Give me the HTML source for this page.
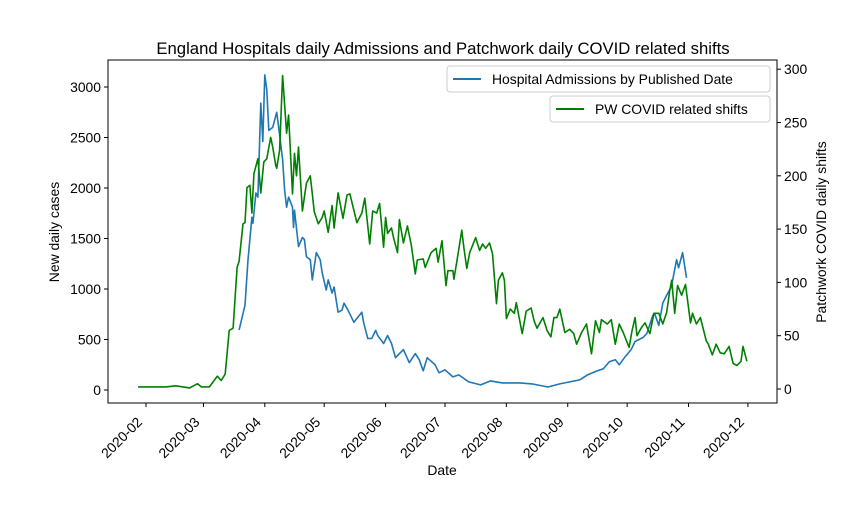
<!DOCTYPE html>
<html><head><meta charset="utf-8"><style>
body{margin:0;background:#fff}
svg text{font-family:"Liberation Sans","DejaVu Sans",sans-serif;fill:#000}
</style></head><body>
<svg id="chart" width="864" height="504" xmlns="http://www.w3.org/2000/svg">
<rect width="864" height="504" fill="#fff"/>
<g id="lines"></g>
<g id="axes"></g>
<text x="443" y="54" font-size="16.7" text-anchor="middle">England Hospitals daily Admissions and Patchwork daily COVID related shifts</text>
<text x="442" y="475" font-size="13.9" text-anchor="middle">Date</text>
<text transform="translate(59,232) rotate(-90)" font-size="13.9" text-anchor="middle">New daily cases</text>
<text transform="translate(826,232) rotate(-90)" font-size="13.9" text-anchor="middle">Patchwork COVID daily shifts</text>
<g>
<rect x="447" y="66" width="323" height="26" rx="3" fill="#fff" stroke="#ccc"/>
<line x1="453" y1="79" x2="481" y2="79" stroke="#1f77b4" stroke-width="2"/>
<text x="492" y="84" font-size="13.9">Hospital Admissions by Published Date</text>
</g>
<g>
<rect x="550" y="96" width="220" height="26" rx="3" fill="#fff" stroke="#ccc"/>
<line x1="556" y1="109" x2="584" y2="109" stroke="green" stroke-width="2"/>
<text x="595" y="114" font-size="13.9">PW COVID related shifts</text>
</g>
</svg>
<script>
// days since 2020-02-01
const admDays=[47,50,51.5,53.5,54,55.5,56.5,58,59,60,61,62,64,66,67,69,70,71,72,74,74.5,75,77,79,80,81,83,84,86,88,89,91,92,94,95,97,99,100,102,105,107,109,110,112,114,116,117,120,122,124,126,130,133,136,138,140,142,146,148,151,155,158,163,169,174,180,189,195,203,209,214,219,223,228,231,234,237,239,242,245,247,251,253,256,257,259,261,263,265,266,268,269,271,273];
const admValues=[594,840,1290,1710,1650,1950,1910,2840,2460,3120,2970,2570,2600,2750,2600,2280,1980,1810,1910,1810,1610,1780,1420,1510,1490,1320,1290,1090,1360,1290,1160,990,1090,960,1020,770,790,860,790,670,720,770,660,510,510,590,540,460,540,460,320,400,270,360,300,190,320,250,170,200,130,150,80,50,90,70,70,60,30,60,80,100,150,190,210,280,300,250,330,400,480,520,560,740,750,640,860,940,1010,1090,1290,1210,1360,1110];
const pwDays=[-4,10,15,22,26,28,32,36,38,40,42,44,46,47,49,50,51,52.5,53.5,54.5,56.5,58,59.5,61,63,64,65.5,66,67.5,69,71,72,74,75,76,77,79,81,83,85,87,89,90,92,94,95,97,99.5,101.5,103,106.5,109,110.5,113,114.5,116.5,118,120,121,122,124,125,127,128,130,132,134,136,137,140,141,144,146.5,147.5,149.5,151.5,152.5,155,155.5,157,159.5,160.5,162,163.5,166.5,168.5,170,171.5,173.5,175,177,178,180,181,182,184,186,187,190,192,194.5,196,197.5,200.5,202.5,204.5,206,207.5,209,211.5,214,216,217.5,220,222.5,225,227,229,230,233,235,237,239,241,244,245.5,247,248,250,252,254.5,256.5,259,261,263,264.5,265.5,267,268.5,270.5,272.5,275,276,278,280,283,284,286,288,290,292,294.5,296.5,298.5,300.5,301.5,303.5];
const pwValues=[2,2,3,1,5,2,2,12,8,14,55,57,114,120,155,156,189,191,165,202,216,184,213,216,236,227,210,207,224,294,240,257,183,221,200,227,167,193,200,166,155,161,167,147,172,151,184,160,182,183,156,165,179,136,167,165,174,133,161,146,151,142,128,159,137,153,135,108,121,122,114,128,132,119,139,97,111,111,103,120,149,133,113,128,142,130,136,132,137,127,80,102,109,102,66,75,71,81,52,73,76,64,57,67,55,49,67,67,75,53,56,52,42,53,61,33,64,53,65,61,65,42,61,53,39,55,67,50,57,62,52,71,71,61,72,92,102,71,97,88,98,62,71,61,67,45,42,32,42,34,33,40,24,22,26,40,26];
const leftTicks=[0,500,1000,1500,2000,2500,3000];
const rightTicks=[0,50,100,150,200,250,300];
const xTickDays=[0,29,60,90,121,151,182,213,243,274,304];
const xTickLabels=["2020-02","2020-03","2020-04","2020-05","2020-06","2020-07","2020-08","2020-09","2020-10","2020-11","2020-12"];

const L=108,R=777,T=60,B=403;
const xS=d=>146+d*1.98;
const yL=v=>390-v*0.101;
const yR=v=>389-v*1.066;
const NS="http://www.w3.org/2000/svg";
function mk(tag,attrs,parent){const e=document.createElementNS(NS,tag);for(const k in attrs)e.setAttribute(k,attrs[k]);parent.appendChild(e);return e;}
const lines=document.getElementById('lines'),axes=document.getElementById('axes');

const p1=mk('polyline',{points:admDays.map((d,i)=>xS(d).toFixed(1)+','+yL(admValues[i]).toFixed(1)).join(' '),fill:'none',stroke:'#1f77b4','stroke-width':1.6,'stroke-linejoin':'round'},lines);


const p2=mk('polyline',{points:pwDays.map((d,i)=>xS(d).toFixed(1)+','+yR(pwValues[i]).toFixed(1)).join(' '),fill:'none',stroke:'green','stroke-width':1.6,'stroke-linejoin':'round'},lines);



const frame=mk('rect',{x:L,y:T,width:R-L,height:B-T,fill:'none',stroke:'#000','stroke-width':1},axes);


leftTicks.forEach(v=>{
  const y=yL(v);
  mk('line',{x1:L-4,y1:y,x2:L,y2:y,stroke:'#000'},axes);
  const t=mk('text',{x:L-7,y:y+5,'font-size':13.9,'text-anchor':'end'},axes);
  t.textContent=v;
  
  
});
rightTicks.forEach(v=>{
  const y=yR(v);
  mk('line',{x1:R,y1:y,x2:R+4,y2:y,stroke:'#000'},axes);
  const t=mk('text',{x:R+7,y:y+5,'font-size':13.9},axes);
  t.textContent=v;
  
  
});
xTickDays.forEach((d,i)=>{
  const x=xS(d);
  mk('line',{x1:x,y1:B,x2:x,y2:B+4,stroke:'#000'},axes);
  const t=mk('text',{transform:`translate(${x-3},${B+20}) rotate(-45)`,'font-size':13.9,'text-anchor':'end'},axes);
  t.textContent=xTickLabels[i];
  
  
});
</script>
</body></html>
